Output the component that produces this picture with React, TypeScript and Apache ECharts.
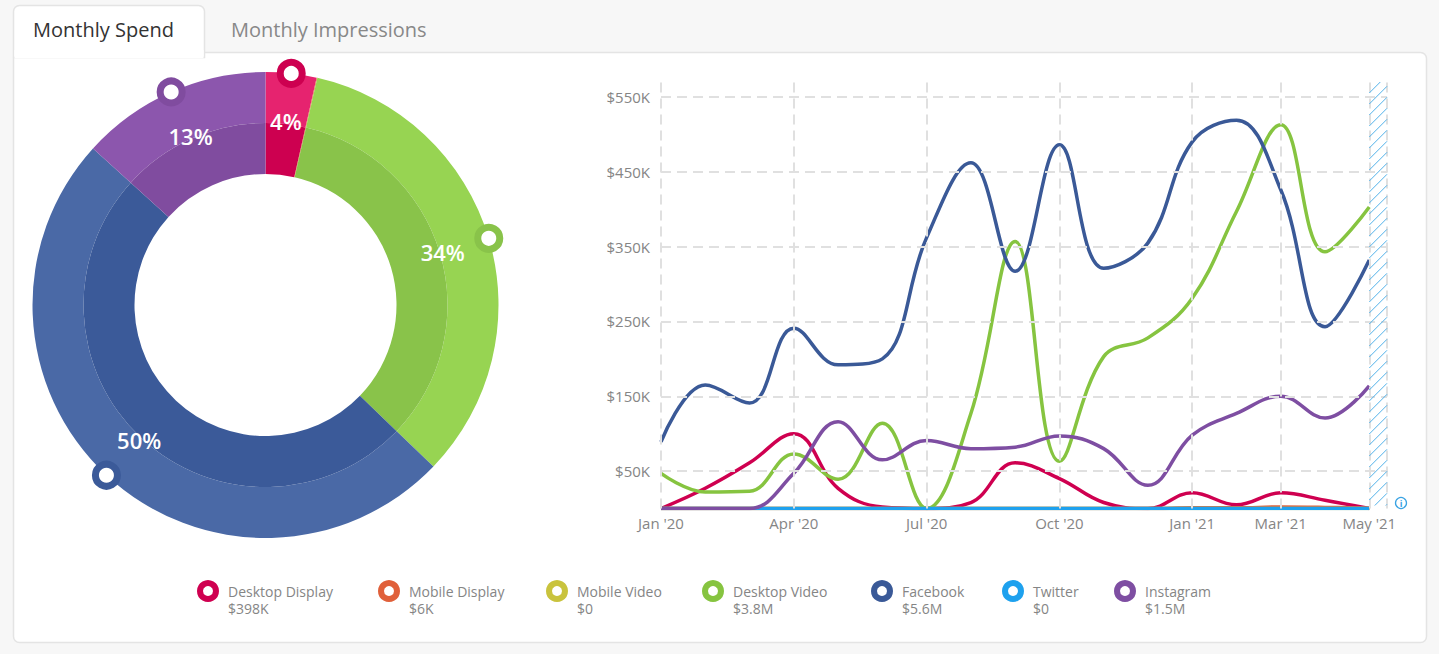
import React, { useEffect, useRef } from "react";
import * as echarts from "echarts";

const FONT = "'Open Sans', sans-serif";

const months = ["Jan '20", "Feb '20", "Mar '20", "Apr '20", "May '20", "Jun '20", "Jul '20", "Aug '20", "Sep '20", "Oct '20", "Nov '20", "Dec '20", "Jan '21", "Feb '21", "Mar '21", "Apr '21", "May '21"];
const xTickIndex = [0, 3, 6, 9, 12, 14, 16];
const xGridLines = [0, 3, 6, 9, 12, 14, 16, 16.4];
const yTicks = [50, 150, 250, 350, 450, 550];

const channelNames = ["Desktop Display", "Mobile Display", "Mobile Video", "Desktop Video", "Facebook", "Twitter", "Instagram"];
const channelTotals = [398, 6, 0, 3800, 5600, 0, 1500]; // $K
const totalLabels = ["$398K", "$6K", "$0", "$3.8M", "$5.6M", "$0", "$1.5M"];

const lineColors = ["#cf0050", "#e0603a", "#c9c33d", "#86c440", "#3a5997", "#1ea1ee", "#7e4ea2"];
const outerColors = ["#e6236f", "#e8744f", "#d4cf55", "#97d452", "#4a69a6", "#3db0f0", "#8c56ad"];
const innerColors = ["#cd0050", "#e0603a", "#c9c33d", "#89c34a", "#3b5a99", "#1ea1ee", "#804c9f"];

// monthly spend, $K
const desktopDisplay = [0, 27, 61, 100, 27, 2, 0, 8, 61, 40, 8, 0, 21, 5, 21, 11, 0];
const mobileDisplay = [0, 0, 0, 0, 0, 0, 0, 0, 0, 0, 0, 0, 1, 1, 2, 1.5, 0.5];
const mobileVideo = [0, 0, 0, 0, 0, 0, 0, 0, 0, 0, 0, 0, 0, 0, 0, 0, 0];
const desktopVideo = [47, 22, 23, 73, 39, 114, 0, 127, 357, 63, 203, 228, 281, 397, 513, 343, 403];
const facebook = [89, 165, 141, 241, 192, 200, 362, 462, 317, 486, 321, 355, 490, 519, 426, 243, 332];
const twitter = [0, 0, 0, 0, 0, 0, 0, 0, 0, 0, 0, 0, 0, 0, 0, 0, 0];
const instagram = [0, 0, 0, 47, 116, 65, 91, 80, 82, 97, 80, 31, 98, 127, 150, 121, 164];

const seriesValues = [desktopDisplay, mobileDisplay, mobileVideo, desktopVideo, facebook, twitter, instagram];

// legend icon centres (layout)
const legendIconCenters = [207, 388, 556, 712, 881, 1012, 1124];

export default function App() {
  const ref = useRef<HTMLDivElement>(null);
  useEffect(() => {
    if (!ref.current) return;
    const chart = echarts.init(ref.current, null, { renderer: "svg" });
    const grandTotal = channelTotals.reduce((a, b) => a + b, 0);

    const pieData = (colors: string[]) =>
      channelNames.map((n, i) => ({ name: n, value: channelTotals[i], itemStyle: { color: colors[i] } }));

    // marker positions (mid-angle of each visible slice) in polar value space
    const markerData: any[] = [];
    let cum = 0;
    channelTotals.forEach((v, i) => {
      if (v / grandTotal >= 0.01) {
        markerData.push({
          value: [1, cum + v / 2],
          itemStyle: { color: "#fff", borderColor: innerColors[i], borderWidth: 7, opacity: 1 },
        });
      }
      cum += v;
    });

    const lineSeries = channelNames.map((n, i) => ({
      type: "line",
      name: n,
      data: seriesValues[i].map((v, k) => [k, v]),
      smooth: 0.4,
      symbol: "none",
      showSymbol: false,
      lineStyle: { width: 3.5, color: lineColors[i] },
      itemStyle: { color: lineColors[i] },
      z: 3,
    }));

    const legends = channelNames.map((n, i) => ({
      left: legendIconCenters[i] - 10,
      top: 567,
      padding: 0,
      itemWidth: 30,
      itemHeight: 16,
      selectedMode: false,
      data: [{ name: n, icon: "circle", itemStyle: { color: "#fff", borderColor: lineColors[i], borderWidth: 6 } }],
      formatter: (name: string) => {
        const k = channelNames.indexOf(name);
        return `{e| }\n{n|${name}}\n{v|${totalLabels[k]}}`;
      },
      textStyle: {
        fontFamily: FONT,
        rich: {
          e: { fontSize: 14, lineHeight: 17 },
          n: { fontSize: 14, lineHeight: 17, color: "#858585", fontFamily: FONT },
          v: { fontSize: 14, lineHeight: 17, color: "#858585", fontFamily: FONT },
        },
      },
    }));

    const option: any = {
      animation: false,
      backgroundColor: "#f7f7f7",
      textStyle: { fontFamily: FONT },
      grid: { left: 661, right: 52, top: 82, bottom: 145.5 },
      xAxis: {
        type: "value",
        min: 0,
        max: 16.4,
        axisLine: { show: false },
        axisTick: { show: false },
        splitLine: { show: false },
        axisLabel: {
          customValues: xTickIndex,
          formatter: (v: number) => months[Math.round(v)] ?? "",
          color: "#858585",
          fontSize: 15,
          margin: 7,
          fontFamily: FONT,
        },
      },
      yAxis: {
        type: "value",
        min: 0,
        max: 570,
        axisLine: { show: false },
        axisTick: { show: false },
        splitLine: { show: false },
        axisLabel: {
          customValues: yTicks,
          formatter: (v: number) => "$" + v + "K",
          color: "#858585",
          fontSize: 15,
          margin: 11,
          fontFamily: FONT,
        },
      },
      polar: { center: [265.5, 305], radius: 233 },
      angleAxis: { type: "value", min: 0, max: grandTotal, startAngle: 90, clockwise: true, show: false },
      radiusAxis: { type: "value", min: 0, max: 1, show: false },
      legend: legends,
      series: [
        {
          type: "line",
          name: "__grid",
          data: [[0, 0]],
          symbol: "none",
          lineStyle: { width: 0 },
          silent: true,
          z: 1,
          markLine: {
            silent: true,
            symbol: ["none", "none"],
            label: { show: false },
            lineStyle: { color: "#e0e0e0", type: [10, 6], width: 2 },
            data: [...xGridLines.map((v) => ({ xAxis: v })), ...yTicks.map((v) => ({ yAxis: v }))],
          },
        },
        ...lineSeries,
        {
          type: "pie",
          name: "outer",
          center: [265.5, 305],
          radius: [182, 233],
          startAngle: 90,
          clockwise: true,
          silent: true,
          label: { show: false },
          labelLine: { show: false },
          data: pieData(outerColors),
          z: 2,
        },
        {
          type: "pie",
          name: "inner",
          center: [265.5, 305],
          radius: [131, 182],
          startAngle: 90,
          clockwise: true,
          silent: true,
          label: { show: false },
          labelLine: { show: false },
          data: pieData(innerColors),
          z: 3,
        },
        {
          type: "pie",
          name: "labels",
          center: [265.5, 305],
          radius: [131, 233],
          startAngle: 90,
          clockwise: true,
          silent: true,
          itemStyle: { color: "rgba(0,0,0,0)" },
          label: {
            show: true,
            position: "inside",
            color: "#fff",
            fontSize: 22,
            fontWeight: 600,
            fontFamily: FONT,
            formatter: (p: any) => (p.percent >= 1 ? Math.round(p.percent) + "%" : ""),
          },
          labelLine: { show: false },
          data: channelNames.map((n, i) => ({ name: n, value: channelTotals[i], itemStyle: { color: "rgba(0,0,0,0)" } })),
          z: 4,
        },
        {
          type: "scatter",
          coordinateSystem: "polar",
          symbol: "circle",
          symbolSize: 22,
          silent: true,
          itemStyle: { opacity: 1 },
          data: markerData,
          z: 6,
        },
      ],
    };
    chart.setOption(option);

    const x0 = chart.convertToPixel({ xAxisIndex: 0 }, 16) as number;
    const x1 = chart.convertToPixel({ xAxisIndex: 0 }, 16.4) as number;
    const yT = chart.convertToPixel({ yAxisIndex: 0 }, 570) as number;
    const yB = (chart.convertToPixel({ yAxisIndex: 0 }, 0) as number) - 3;
    const hatch: any[] = [];
    const step = 11;
    let hid = 0;
    for (let c = yT; c <= yB + (x1 - x0) + step; c += step) {
      const xs = Math.max(x0, x0 + c - yB);
      const xe = Math.min(x1, x0 + c - yT);
      if (xe > xs) {
        hatch.push({
          type: "line",
          id: "h" + hid++,
          silent: true,
          z: 5,
          shape: { x1: xs, y1: c - (xs - x0), x2: xe, y2: c - (xe - x0) },
          style: { stroke: "#52b2ea", lineWidth: 1 },
        });
      }
    }

    const graphics: any[] = [
      {
        type: "rect",
        id: "panel",
        z: -10,
        silent: true,
        shape: { x: 13.5, y: 52.5, width: 1413, height: 590, r: 6 },
        style: { fill: "#fff", stroke: "#e4e4e4", lineWidth: 1.5 },
      },
      {
        type: "rect",
        id: "tab",
        z: -9,
        silent: true,
        shape: { x: 13.5, y: 5.5, width: 191, height: 52, r: [6, 6, 0, 0] },
        style: { fill: "#fff", stroke: "#e4e4e4", lineWidth: 1.5 },
      },
      {
        type: "rect",
        id: "tabcover",
        z: -8,
        silent: true,
        shape: { x: 14.5, y: 50, width: 189, height: 8 },
        style: { fill: "#fff" },
      },
      {
        type: "text",
        id: "tab1",
        z: -7,
        silent: true,
        x: 33,
        y: 29,
        style: { text: "Monthly Spend", fill: "#333", font: `20px ${FONT}`, verticalAlign: "middle" },
      },
      {
        type: "text",
        id: "tab2",
        z: -7,
        silent: true,
        x: 231,
        y: 29,
        style: { text: "Monthly Impressions", fill: "#888", font: `20px ${FONT}`, verticalAlign: "middle" },
      },
      {
        type: "circle",
        id: "info",
        silent: true,
        shape: { cx: 1401, cy: 503, r: 5.5 },
        style: { fill: "#fff", stroke: "#3aa3e3", lineWidth: 1.3 },
      },
      {
        type: "text",
        id: "infoI",
        silent: true,
        x: 1401,
        y: 503.5,
        style: { text: "i", fill: "#3aa3e3", font: `bold 9px ${FONT}`, align: "center", verticalAlign: "middle" },
      },
      ...hatch,
    ];
    chart.setOption({ graphic: graphics });

    return () => chart.dispose();
  }, []);

  return (
    <div style={{ position: "fixed", left: 0, top: 0, width: 1439, height: 654 }}>
      <div ref={ref} style={{ width: 1439, height: 654 }} />
    </div>
  );
}
